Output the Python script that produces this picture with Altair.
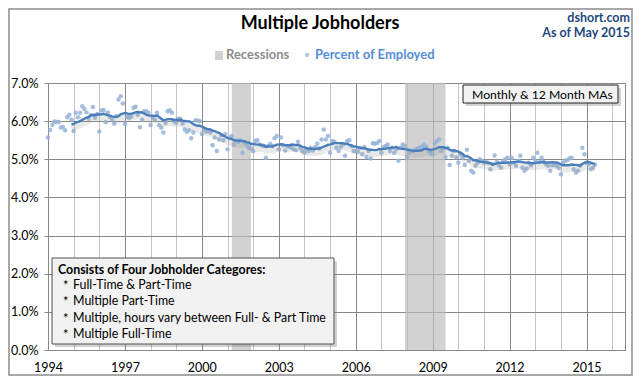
import altair as alt
import pandas as pd

# ---------------- data (percent of employed, monthly) ----------------
v1994 = [5.57, 5.77, 5.90, 5.99, 5.98, 5.98, 5.83, 5.85, 5.76, 6.10, 6.17, 6.04]
v1995 = [5.74, 6.22, 6.10, 6.22, 6.39, 6.32, 6.23, 6.06, 6.16, 6.37, 6.09, 6.19]
v1996 = [5.73, 6.28, 6.29, 5.97, 6.23, 6.11, 6.04, 5.93, 6.13, 6.57, 6.65, 6.46]
v1997 = [5.93, 6.11, 6.09, 6.12, 6.35, 6.38, 6.17, 5.84, 6.04, 6.26, 6.26, 6.22]
v1998 = [5.90, 6.09, 6.04, 6.22, 5.89, 5.83, 5.70, 5.95, 6.26, 6.28, 6.22, 6.00]
v1999 = [5.96, 6.06, 6.06, 5.94, 5.78, 5.72, 5.76, 5.55, 5.70, 6.02, 6.02, 6.00]
v2000 = [5.66, 5.78, 5.72, 5.76, 5.70, 5.37, 5.57, 5.22, 5.52, 5.63, 5.50, 5.66]
v2001 = [5.26, 5.57, 5.61, 5.39, 5.50, 5.45, 5.50, 5.17, 5.43, 5.39, 5.30, 5.28]
v2002 = [5.21, 5.48, 5.50, 5.39, 5.37, 5.35, 5.04, 5.35, 5.40, 5.35, 5.55, 5.61]
v2003 = [5.26, 5.57, 5.37, 5.23, 5.35, 5.33, 5.30, 5.26, 5.24, 5.46, 5.30, 5.22]
v2004 = [5.17, 5.26, 5.22, 5.30, 5.23, 5.32, 5.41, 5.28, 5.52, 5.78, 5.52, 5.61]
v2005 = [5.17, 5.48, 5.46, 5.30, 5.22, 5.33, 5.39, 5.09, 5.48, 5.50, 5.35, 5.22]
v2006 = [5.22, 5.20, 5.30, 5.13, 5.32, 5.06, 5.22, 5.02, 5.42, 5.41, 5.43, 5.48]
v2007 = [5.17, 5.32, 5.35, 5.39, 5.22, 5.30, 5.17, 5.26, 4.96, 5.30, 5.39, 5.35]
v2008 = [5.06, 5.17, 5.22, 5.23, 5.26, 5.28, 5.30, 5.33, 5.39, 5.32, 5.22, 5.17]
v2009 = [5.13, 5.42, 5.48, 5.52, 5.22, 5.29, 5.06, 5.30, 4.85, 5.09, 5.22, 5.05]
v2010 = [4.91, 5.13, 5.04, 4.85, 5.25, 4.96, 4.70, 4.65, 4.83, 4.91, 5.00, 4.96]
v2011 = [4.91, 4.93, 4.91, 4.74, 4.87, 5.10, 4.93, 4.84, 4.78, 4.96, 5.00, 5.04]
v2012 = [4.87, 5.04, 4.91, 4.83, 4.96, 5.09, 4.78, 4.70, 4.76, 4.91, 4.84, 5.04]
v2013 = [4.96, 5.17, 4.93, 5.04, 4.93, 4.87, 4.83, 4.70, 4.84, 4.87, 4.83, 4.78]
v2014 = [4.61, 4.91, 4.96, 4.98, 5.02, 5.04, 4.74, 4.65, 4.70, 4.83, 5.30, 5.13]
v2015 = [4.91, 4.87, 4.74, 4.78, 4.86]

series = [v1994, v1995, v1996, v1997, v1998, v1999, v2000, v2001, v2002, v2003,
          v2004, v2005, v2006, v2007, v2008, v2009, v2010, v2011, v2012, v2013,
          v2014, v2015]
first_year = 1994

rec_start = [2001 + 2 / 12, 2007 + 11 / 12]
rec_end = [2001 + 11 / 12, 2009 + 6 / 12]

grid_years = list(range(1994, 2017))
y_ticks = [0, 1, 2, 3, 4, 5, 6, 7]

title_text = "Multiple Jobholders"
source_lines = ["dshort.com", "As of May 2015"]
legend_labels = ["Recessions", "Percent of Employed"]
ma_note = "Monthly & 12 Month MAs"
box_header = "Consists of Four Jobholder Categores:"
box_items = ["Full-Time & Part-Time", "Multiple Part-Time",
             "Multiple, hours vary between  Full- & Part Time", "Multiple Full-Time"]

rows = []
for i, vals in enumerate(series):
    for m, v in enumerate(vals):
        rows.append({"t": first_year + i + m / 12, "v": v})
df = pd.DataFrame(rows)
rec_df = pd.DataFrame({"start": rec_start, "end": rec_end})
one = pd.DataFrame({"k": [0]})

# ---------------- layout ----------------
W, H = 577, 267
FONT = "Lato"
BLUE_PT = "#95B3D7"
BLUE_LN = "#4A7EBB"
GRID_DARK = "#888888"
GRID_LIGHT = "#C4C4C4"

xscale = alt.Scale(domain=[1994, 2016.5], nice=False, zero=False)
yscale = alt.Scale(domain=[0, 7], nice=False)

xaxis = alt.Axis(
    values=grid_years, title=None,
    labelExpr="(datum.value - 1994) % 3 == 0 ? toString(datum.value) : ''",
    grid=True,
    gridColor={"condition": {"test": "(datum.value - 1994) % 3 == 0", "value": GRID_DARK},
               "value": GRID_LIGHT},
    gridWidth=1, ticks=False, domainColor=GRID_DARK, labelFontSize=12.5,
    labelColor="#000000", labelFont=FONT, labelPadding=11, labelFlush=False,
)
yaxis = alt.Axis(
    values=y_ticks, title=None, labelExpr="format(datum.value, '.1f') + '%'",
    grid=True, gridColor=GRID_DARK, gridWidth=1, tickSize=4, tickColor=GRID_DARK,
    domainColor=GRID_DARK, labelFontSize=12.5, labelColor="#000000", labelFont=FONT,
    labelPadding=6,
)

X = alt.X("t:Q", scale=xscale, axis=xaxis)
Y = alt.Y("v:Q", scale=yscale, axis=yaxis)

recessions = alt.Chart(rec_df).mark_rect(color="#BDBDBD", opacity=0.68).encode(
    x=alt.X("start:Q", scale=xscale, axis=xaxis),
    x2="end:Q",
    y=alt.value(0), y2=alt.value(H),
)

points = alt.Chart(df).mark_circle(size=20, color=BLUE_PT, opacity=0.85).encode(x=X, y=Y)

ma_base = alt.Chart(df).transform_window(
    ma="mean(v)", frame=[-11, 0], sort=[{"field": "t"}]
).transform_filter("datum.t >= 1994.9")

shadow = ma_base.mark_line(color="#9a9a9a", strokeWidth=6, opacity=0.22, yOffset=4).encode(
    x=X, y=alt.Y("ma:Q", scale=yscale, axis=yaxis))
ma_line = ma_base.mark_line(color=BLUE_LN, strokeWidth=2.4).encode(
    x=X, y=alt.Y("ma:Q", scale=yscale, axis=yaxis))


def txt(text, x, y, size=12, bold=False, color="#000000", align="left", font=FONT):
    return alt.Chart(one).mark_text(
        text=text, fontSize=size, fontWeight="bold" if bold else "normal", color=color,
        align=align, baseline="middle", font=font,
    ).encode(x=alt.value(x), y=alt.value(y))


def box(x1, y1, x2, y2, stroke="#404040"):
    sh = alt.Chart(one).mark_rect(color="#7f7f7f", opacity=0.35).encode(
        x=alt.value(x1 + 3), x2=alt.value(x2 + 3), y=alt.value(y1 + 3), y2=alt.value(y2 + 3))
    bx = alt.Chart(one).mark_rect(fill="#F2F2F2", stroke=stroke, strokeWidth=1).encode(
        x=alt.value(x1), x2=alt.value(x2), y=alt.value(y1), y2=alt.value(y2))
    return [sh, bx]


layers = [recessions, points, shadow, ma_line]

# title and source
layers.append(txt(title_text, 272, -59, size=18, bold=True, align="center"))
layers.append(txt(source_lines[0], 582, -65, size=12.5, bold=True, color="#1F497D", align="right"))
layers.append(txt(source_lines[1], 582, -50, size=12.5, bold=True, color="#1F497D", align="right"))

# legend
layers.append(alt.Chart(one).mark_rect(color="#D0D0D0").encode(
    x=alt.value(167), x2=alt.value(175), y=alt.value(-32), y2=alt.value(-23)))
layers.append(txt(legend_labels[0], 178, -28, size=13, bold=True, color="#8C8C8C"))
layers.append(alt.Chart(one).mark_circle(size=20, color=BLUE_PT).encode(
    x=alt.value(259), y=alt.value(-28)))
layers.append(txt(legend_labels[1], 267, -28, size=13, bold=True, color="#558ED5"))

# MA note box
layers += box(415, 2, 570, 20, stroke="#202020")
layers.append(txt(ma_note, 424, 11.5, size=12.2))

# categories box
layers += box(4, 175, 286, 261, stroke="#505050")
layers.append(txt(box_header, 10, 186.5, size=12.4, bold=True))
for i, item in enumerate(box_items):
    yy = 201.5 + i * 16.5
    layers.append(txt("*", 15, yy + 1, size=13))
    layers.append(txt(item, 25, yy, size=12.4))

# outer frame
layers.append(alt.Chart(one).mark_rect(fillOpacity=0, stroke="#8C8C8C", strokeWidth=1.5).encode(
    x=alt.value(-39), x2=alt.value(584), y=alt.value(-74), y2=alt.value(292)))

chart = alt.layer(*layers).properties(
    width=W, height=H,
    autosize=alt.AutoSizeParams(type="none"),
    padding={"left": 40, "top": 75, "right": 8, "bottom": 27},
    background="#FFFFFF",
).configure_view(stroke=GRID_DARK)

chart.save("out.html", embed_options={"renderer": "svg", "actions": False})
